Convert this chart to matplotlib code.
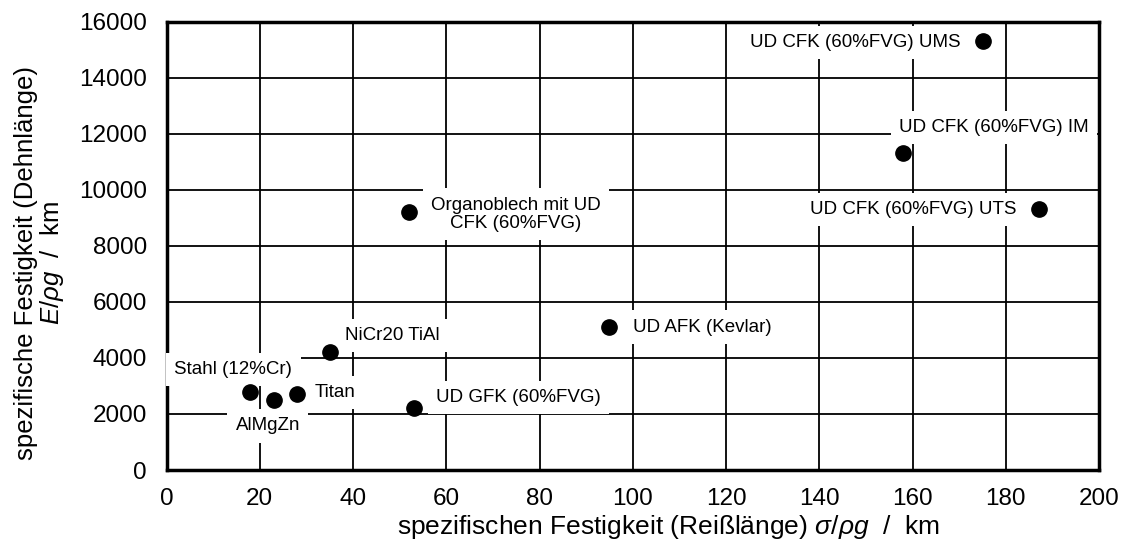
import matplotlib
matplotlib.use('Agg')
import matplotlib.pyplot as plt

plt.rcParams['font.family'] = ['Liberation Sans', 'DejaVu Sans']
plt.rcParams['mathtext.fontset'] = 'custom'
plt.rcParams['mathtext.it'] = 'Liberation Sans:italic'
plt.rcParams['mathtext.rm'] = 'Liberation Sans'

# materials: specific strength (km), specific stiffness (km)
names = ['Stahl (12%Cr)', 'AlMgZn', 'Titan', 'NiCr20 TiAl', 'UD GFK (60%FVG)',
         'Organoblech mit UD\nCFK (60%FVG)', 'UD AFK (Kevlar)',
         'UD CFK (60%FVG) UMS', 'UD CFK (60%FVG) IM', 'UD CFK (60%FVG) UTS']
reiss = [18, 23, 28, 35, 53, 52, 95, 175, 158, 187]
dehn = [2800, 2500, 2700, 4200, 2200, 9200, 5100, 15300, 11300, 9300]

# label offsets in pixels (from the point to the label centre)
offsets = [(-17, 22), (-6, -26), (38, 2), (63, 17), (105, 11),
           (107, -2), (93, 0), (-127, -1), (91, 26), (-125, 0)]

fig, ax = plt.subplots(figsize=(11.25, 5.44), dpi=100)
fig.subplots_adjust(left=0.148, right=0.977, top=0.96, bottom=0.136)

ax.set_xlim(0, 200)
ax.set_ylim(0, 16000)
ax.set_xticks(range(0, 201, 20))
ax.set_yticks(range(0, 16001, 2000))
ax.grid(True, color='black', linewidth=1.3)
ax.set_axisbelow(True)
ax.tick_params(axis='x', length=0, labelsize=17.5, pad=13)
ax.tick_params(axis='y', length=0, labelsize=17.5, pad=14)
for s in ax.spines.values():
    s.set_linewidth(2.5)

ax.plot(reiss, dehn, 'o', color='black', markersize=11, zorder=6)

for n, x, y, off in zip(names, reiss, dehn, offsets):
    ax.annotate(n, xy=(x, y), xytext=off, textcoords='offset pixels',
                ha='center', va='center', fontsize=13.5, zorder=5,
                annotation_clip=False, linespacing=1.1,
                bbox=dict(facecolor='white', edgecolor='none', pad=6))

ax.set_xlabel('spezifischen Festigkeit (Reißlänge) $\\mathit{\\sigma/\\rho g}$  /  km',
              fontsize=19)
ax.xaxis.set_label_coords(0.538, -0.097)
ax.set_ylabel('spezifische Festigkeit (Dehnlänge)\n$\\mathit{E/\\rho g}$  /  km',
              fontsize=18.5, linespacing=1.0)
ax.yaxis.set_label_coords(-0.108, 0.461)

fig.savefig('out.png', dpi=100)
